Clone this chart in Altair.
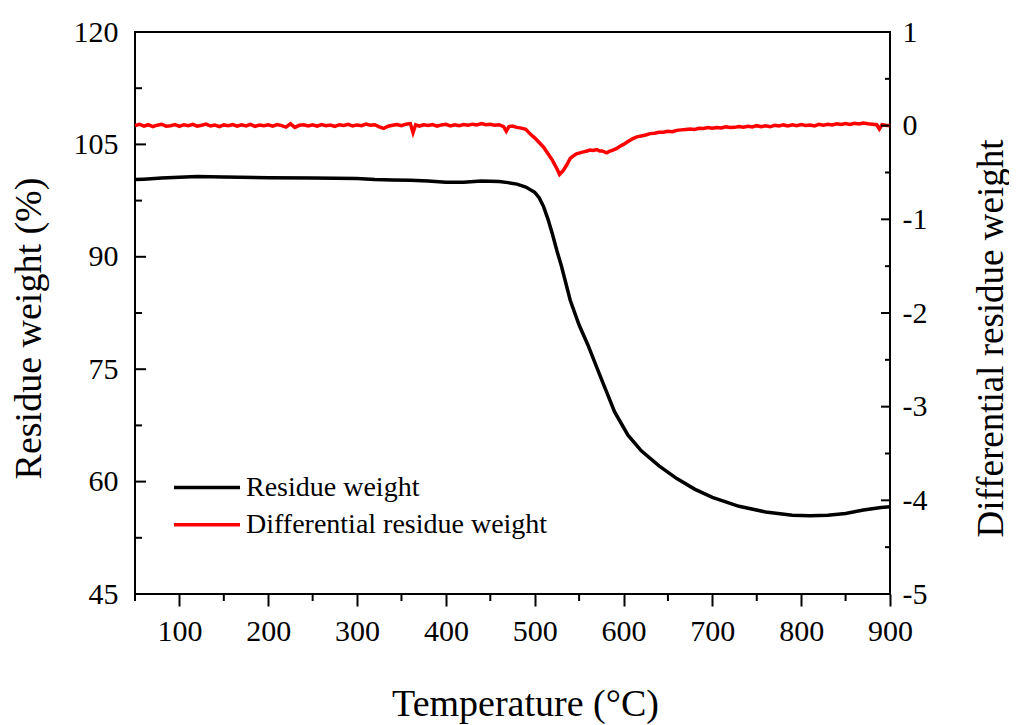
import altair as alt
import pandas as pd

# ---------------- data ----------------
temp_w = [50, 60, 80, 100, 120, 150, 200, 250, 300, 320, 340, 360, 380, 400, 420, 440,
          460, 470, 480, 490, 500, 505, 510, 515, 520, 525, 530, 540, 550, 560, 575,
          590, 605, 620, 640, 660, 680, 700, 730, 760, 790, 810, 830, 850, 870, 890, 900]
weight = [100.3, 100.35, 100.5, 100.6, 100.7, 100.65, 100.55, 100.5, 100.45, 100.3,
          100.25, 100.2, 100.1, 99.95, 99.95, 100.1, 100.05, 99.9, 99.7, 99.3, 98.6,
          97.9, 96.7, 95.0, 93.0, 90.8, 88.8, 84.2, 80.9, 78.2, 73.7, 69.3, 66.2, 64.1,
          62.1, 60.4, 59.0, 57.9, 56.7, 55.95, 55.5, 55.45, 55.5, 55.75, 56.2, 56.55, 56.65]

temp_d = [
    50, 55, 60, 65, 70, 75, 80, 85, 90, 95,
    100, 105, 110, 115, 120, 125, 130, 135, 140, 145,
    150, 155, 160, 165, 170, 175, 180, 185, 190, 195,
    200, 205, 210, 215, 220, 225, 230, 235, 240, 245,
    250, 255, 260, 265, 270, 275, 280, 285, 290, 295,
    300, 305, 310, 315, 320, 325, 330, 335, 340, 345,
    350, 355, 360, 363, 366, 370, 375, 380, 385, 390,
    395, 400, 405, 410, 415, 420, 425, 430, 435, 440,
    445, 450, 455, 460, 465, 468, 471, 475, 480, 485,
    490, 495, 500, 505, 510, 515, 520, 525, 528, 532,
    536, 540, 544, 547, 551, 555, 559, 562, 566, 570,
    573, 576, 581, 584, 588, 592, 596, 600, 605, 610,
    615, 620, 625, 630, 635, 640, 645, 650, 655, 660,
    665, 670, 675, 680, 685, 690, 695, 700, 705, 710,
    715, 720, 725, 730, 735, 740, 745, 750, 755, 760,
    765, 770, 775, 780, 785, 790, 795, 800, 805, 810,
    815, 820, 825, 830, 835, 840, 845, 850, 855, 860,
    865, 870, 875, 880, 885, 888, 891, 895, 900,
]
deriv = [
    0.0, 0.015, -0.005, 0.01, -0.01, 0.005, 0.015, -0.005, 0.0, 0.012,
    -0.008, 0.01, 0.0, 0.014, -0.006, 0.004, 0.016, -0.004, 0.006, -0.01,
    0.008, 0.0, 0.012, -0.006, 0.01, -0.002, 0.014, -0.008, 0.006, 0.0,
    0.01, -0.006, 0.012, 0.0, -0.015, 0.02, -0.018, 0.004, 0.01, -0.004,
    0.008, -0.006, 0.012, 0.0, 0.006, -0.008, 0.01, 0.002, 0.014, -0.004,
    0.008, 0.0, 0.016, 0.004, 0.01, -0.012, -0.028, -0.006, 0.004, 0.012,
    0.0, 0.016, 0.022, -0.075, 0.01, -0.004, 0.01, 0.002, 0.012, -0.006,
    0.008, 0.014, -0.002, 0.01, 0.0, 0.012, 0.004, 0.016, 0.008, 0.022,
    0.01, 0.014, 0.004, 0.01, -0.01, -0.06, -0.01, -0.004, -0.018, -0.026,
    -0.04, -0.09, -0.13, -0.18, -0.23, -0.30, -0.37, -0.46, -0.52, -0.48,
    -0.42, -0.35, -0.32, -0.30, -0.29, -0.28, -0.27, -0.26, -0.265, -0.255,
    -0.27, -0.27, -0.29, -0.275, -0.26, -0.245, -0.22, -0.20, -0.17, -0.14,
    -0.12, -0.11, -0.10, -0.085, -0.08, -0.07, -0.07, -0.06, -0.065, -0.05,
    -0.045, -0.04, -0.035, -0.04, -0.028, -0.03, -0.02, -0.028, -0.02, -0.025,
    -0.012, -0.02, -0.018, -0.008, -0.016, -0.006, -0.014, 0.0, -0.01, -0.002,
    -0.012, 0.004, -0.004, 0.008, -0.002, 0.01, 0.0, 0.012, 0.002, 0.008,
    -0.002, 0.014, 0.006, 0.016, 0.008, 0.02, 0.012, 0.022, 0.014, 0.026,
    0.018, 0.028, 0.02, 0.016, 0.01, -0.035, 0.01, 0.004, 0.0,
]

series_names = ["Residue weight", "Differential residue weight"]
series_colors = ["black", "red"]

x_major = [100, 200, 300, 400, 500, 600, 700, 800, 900]
x_minor = [50, 150, 250, 350, 450, 550, 650, 750, 850]
left_major = [45, 60, 75, 90, 105, 120]
left_minor = [52.5, 67.5, 82.5, 97.5, 112.5]
right_major = [-5, -4, -3, -2, -1, 0, 1]
right_minor = [-4.5, -3.5, -2.5, -1.5, -0.5, 0.5]

# ---------------- chart ----------------
FONT = "Liberation Serif"
W, H = 755, 562

df_w = pd.DataFrame({"T": temp_w, "v": weight, "series": series_names[0]})
df_d = pd.DataFrame({"T": temp_d, "v": deriv, "series": series_names[1]})

x_scale = alt.Scale(domain=[50, 900], nice=False, zero=False)
x_enc = alt.X(
    "T:Q",
    scale=x_scale,
    axis=alt.Axis(
        values=x_major, title="Temperature (°C)", grid=False, domain=False,
        tickSize=12, tickWidth=2, tickColor="black", labelFlush=False,
        labelFont=FONT, labelFontSize=30, labelColor="black", labelPadding=10,
        titleFont=FONT, titleFontSize=38, titleFontWeight="normal", titleColor="black",
        titleX=390, titleY=121, titleBaseline="alphabetic",
    ),
)

left_scale = alt.Scale(domain=[45, 120], nice=False, zero=False)
right_scale = alt.Scale(domain=[-5, 1], nice=False, zero=False)

color_enc = alt.Color(
    "series:N",
    scale=alt.Scale(domain=series_names, range=series_colors),
    legend=alt.Legend(
        title=None, orient="none", legendX=53.5, legendY=437,
        symbolType="M-2,0H2", symbolSize=1089, symbolStrokeWidth=3.5,
        labelFont=FONT, labelFontSize=28, labelColor="black", labelOffset=20.5,
        rowPadding=4.2, padding=0, labelLimit=400,
    ),
)

line_w = alt.Chart(df_w).mark_line(strokeWidth=3.5).encode(
    x=x_enc,
    y=alt.Y("v:Q", scale=left_scale, axis=alt.Axis(
        orient="left", values=left_major, title="Residue weight (%)", grid=False,
        domain=False, ticks=False, tickSize=0,
        labelFont=FONT, labelFontSize=30, labelColor="black", labelPadding=17,
        titleFont=FONT, titleFontSize=38, titleFontWeight="normal", titleColor="black",
        titleX=-95, titleY=296, titleBaseline="alphabetic", titleAngle=270,
    )),
    color=color_enc,
)

line_d = alt.Chart(df_d).mark_line(strokeWidth=3.5).encode(
    x=x_enc,
    y=alt.Y("v:Q", scale=right_scale, axis=alt.Axis(
        orient="right", values=right_major, title="Differential residue weight",
        grid=False, domain=False, ticks=False, tickSize=0,
        labelExpr="'' + datum.value",
        labelFont=FONT, labelFontSize=30, labelColor="black", labelPadding=12,
        titleFont=FONT, titleFontSize=37, titleFontWeight="normal", titleColor="black",
        titleX=112, titleY=306, titleBaseline="alphabetic", titleAngle=270,
    )),
    color=color_enc,
)


def yticks(values, scale, x0, x1):
    return alt.Chart(pd.DataFrame({"v": values})).mark_rule(
        color="black", strokeWidth=2
    ).encode(
        y=alt.Y("v:Q", scale=scale, axis=None),
        x=alt.value(x0), x2=alt.value(x1),
    )


minor_x = alt.Chart(pd.DataFrame({"T": x_minor})).mark_rule(
    color="black", strokeWidth=2
).encode(x=x_enc, y=alt.value(H), y2=alt.value(H + 7))

chart = alt.layer(
    line_w, line_d,
    yticks(left_major, left_scale, 0, 11),
    yticks(left_minor, left_scale, 0, 7),
    yticks(right_major, right_scale, W, W - 9),
    yticks(right_minor, right_scale, W, W - 5),
    minor_x,
).resolve_scale(y="independent").properties(
    width=W, height=H,
    autosize=alt.AutoSizeParams(type="none"),
    padding={"left": 127, "top": 24, "right": 119, "bottom": 131},
    background="white",
).configure_view(stroke="black", strokeWidth=2)

chart.save("out.html", embed_options={"renderer": "svg", "actions": False})
